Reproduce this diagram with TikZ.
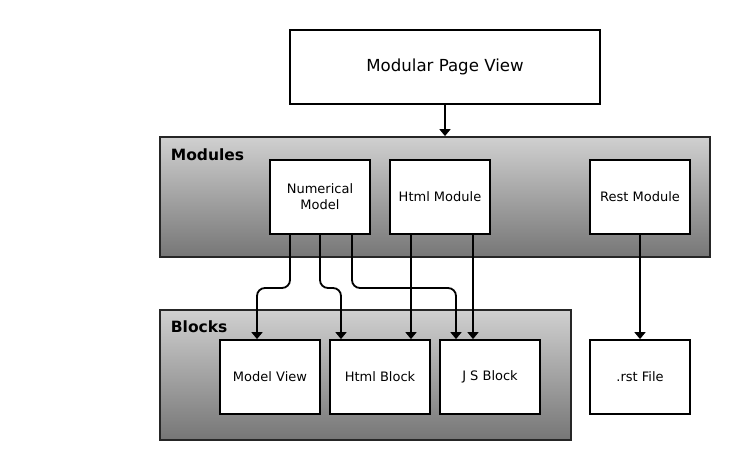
\documentclass[tikz,border=0pt]{standalone}
\usepackage{fontspec}
\setmainfont{DejaVu Sans}
\usetikzlibrary{arrows.meta}

\definecolor{groupTop}{HTML}{D0D0D0}
\definecolor{groupBottom}{HTML}{767676}

\tikzset{
  unit/.style={draw=black, fill=white, line width=1.8pt, inner sep=0pt,
    minimum width=100pt, minimum height=74pt, align=center,
    font=\fontsize{13}{16}\selectfont},
  group/.style={draw=black!85, line width=1.8pt, inner sep=0pt,
    top color=groupTop, bottom color=groupBottom},
  grouplabel/.style={anchor=north west, inner sep=0pt,
    font=\bfseries\fontsize{15.5}{18}\selectfont},
}

\begin{document}
\begin{tikzpicture}[x=1pt,y=-1pt,->,>={Triangle[length=7pt,width=11pt]},line width=1.8pt]
\useasboundingbox (0,0) rectangle (736,460);

  % containers
  \node[group, minimum width=550pt, minimum height=120pt] (modules) at (435,197) {};
  \node[group, minimum width=411pt, minimum height=130pt] (blocks)  at (365.5,375) {};
  \node[grouplabel] (modlabel) at (170,148) {Modules};
  \node[grouplabel] (blklabel) at (170,320) {Blocks};

  % boxes
  \node[unit, minimum width=310pt, font=\fontsize{16.6}{19}\selectfont] (page) at (445,67) {Modular Page View};
  \node[unit] (nm)  at (320,197) {Numerical\\Model};
  \node[unit] (hm)  at (440,197) {Html Module};
  \node[unit] (rm)  at (640,197) {Rest Module};
  \node[unit] (mv)  at (270,377) {Model View};
  \node[unit] (hb)  at (380,377) {Html Block};
  \node[unit] (jb)  at (490,377) {J S Block};
  \node[unit] (rst) at (640,377) {.rst File};

  \coordinate (split) at (0,288);

  \draw (page.south) -- (page.south |- modules.north);
  \draw[rounded corners=8pt] ([xshift=-30pt]nm.south) -- ([xshift=-30pt]nm.south |- split) -| ([xshift=-13pt]mv.north);
  \draw[rounded corners=8pt] (nm.south) -- (nm.south |- split) -| ([xshift=-39pt]hb.north);
  \draw[rounded corners=8pt] ([xshift=32pt]nm.south) -- ([xshift=32pt]nm.south |- split) -| ([xshift=-34pt]jb.north);
  \draw ([xshift=-29pt]hm.south) -- ([xshift=-29pt]hm.south |- hb.north);
  \draw ([xshift=33pt]hm.south) -- ([xshift=33pt]hm.south |- jb.north);
  \draw (rm) -- (rst);

\end{tikzpicture}
\end{document}
